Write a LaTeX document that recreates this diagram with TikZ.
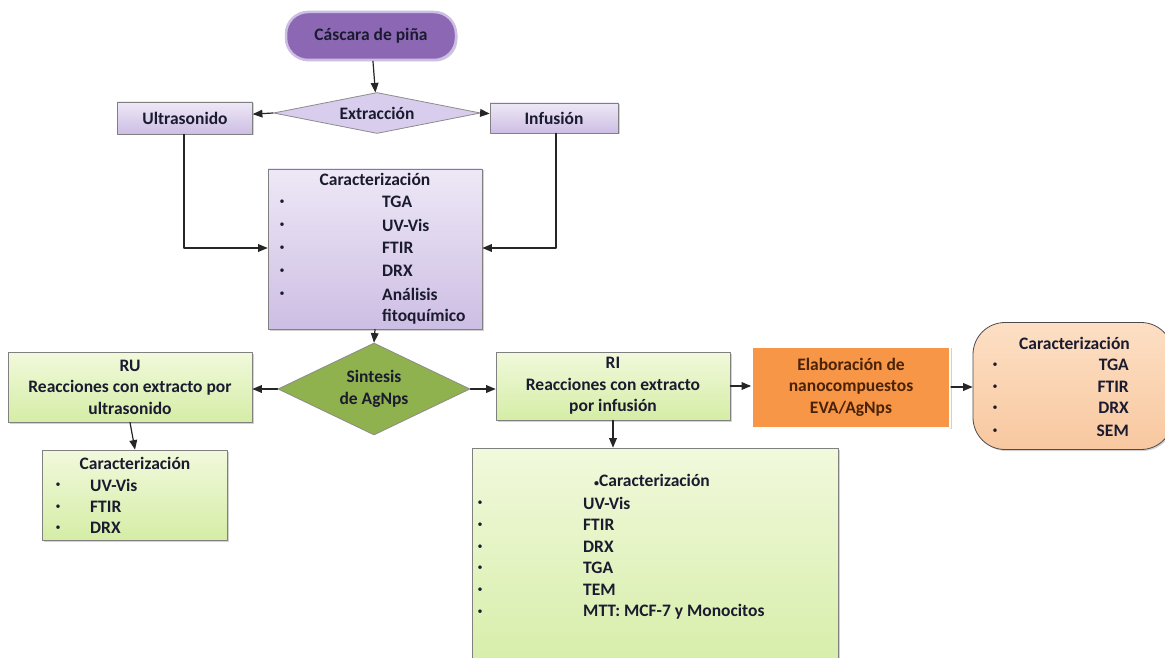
\documentclass[tikz,border=0pt]{standalone}
\usepackage{fontspec}
\setmainfont{Carlito}
\usetikzlibrary{arrows, positioning, shapes.geometric, shadows}
\definecolor{pillviolet}{HTML}{8C68B4}
\definecolor{lavtop}{HTML}{EEE8F6}
\definecolor{lavbot}{HTML}{CDBEE4}
\definecolor{lavdiam}{HTML}{D9CDEE}
\definecolor{greentop}{HTML}{F1F9DC}
\definecolor{greenbot}{HTML}{D5EDA6}
\definecolor{greendiam}{HTML}{8FB14E}
\definecolor{orangebox}{HTML}{F79646}
\definecolor{peachtop}{HTML}{FDDFC4}
\definecolor{peachbot}{HTML}{F8C8A0}
\definecolor{inkblue}{HTML}{1B1B30}
\definecolor{inkbrown}{HTML}{4A2208}

\begin{document}
\begin{tikzpicture}[line cap=round,line join=round,>=triangle 45,x=1pt,y=-1pt,
  every node/.style={font=\bfseries\fontsize{17.5}{21.5}\selectfont, text=inkblue, inner sep=0pt, align=center},
  shade box/.style={draw=black!50, line width=0.8pt, drop shadow={shadow xshift=1.5pt, shadow yshift=-1.5pt, opacity=0.35}},
  lavbox/.style={shade box, rectangle, top color=lavtop, bottom color=lavbot},
  greenbox/.style={shade box, rectangle, top color=greentop, bottom color=greenbot},
  diam/.style={diamond, draw=black!45, line width=0.8pt},
  bul/.style={font=\fontsize{10}{10}\selectfont},
  flow/.style={->, line width=1.2pt, black!85}]
\clip (0,0) rectangle (1165,658);
\fill [white] (0,0) rectangle (1165,658);

% Extraction part
\node [shade box, rounded corners=22, fill=pillviolet, draw=lavbot, line width=2.5pt,
  minimum width=170, minimum height=48] (cascara) at (371,36) {Cáscara de piña};
\node [diam, fill=lavdiam, shape aspect=5.1, minimum width=207, minimum height=41] (extraccion) at (377,113) {Extracción};
\node [lavbox, minimum width=135, minimum height=32] (ultrasonido) at (185,118) {Ultrasonido};
\node [lavbox, minimum width=128, minimum height=30] (infusion) at (554,118) {Infusión};
\node [lavbox, minimum width=214, minimum height=160] (carac1) at (375,249) {};

\coordinate (ultrabend) at (184,248);
\coordinate (infbend) at (556,248);

% Caracterizacion of the extracts
\node (carac1t) at (375,179) {Caracterización};
\foreach \y in {202,225,248,271,294}
  \node [bul] (c1b-\y) at (282,\y) {•};
\foreach \txt/\y in {TGA/202, UV-Vis/225, FTIR/248, DRX/271, Análisis/294, fitoquímico/317}
  \node [anchor=west] (c1i-\y) at (382,\y) {\txt};

% Synthesis part
\node [diam, fill=greendiam, shape aspect=2.1, minimum width=192, minimum height=92] (sintesis) at (374,389) {Sintesis\\de AgNps};
\node [greenbox, minimum width=244, minimum height=70] (ru) at (130,387) {RU\\Reacciones con extracto por\\ultrasonido};
\node [greenbox, minimum width=234, minimum height=68] (ri) at (613,386) {RI\\Reacciones con extracto\\por infusión};
\node [greenbox, minimum width=185, minimum height=90] (carac2) at (135,495) {};
\node [greenbox, minimum width=366, minimum height=230] (carac3) at (655,563) {};
\node [shade box, fill=orangebox, draw=white, line width=2pt, minimum width=198, minimum height=81,
  text=inkbrown] (elab) at (851,387) {Elaboración de\\nanocompuestos\\EVA/AgNps};
\node [shade box, rounded corners=32, top color=peachtop, bottom color=peachbot, draw=black!70,
  minimum width=200, minimum height=127] (carac4) at (1073,386) {};

% Lists
\node (carac2t) at (135,463) {Caracterización};
\foreach \txt/\y in {UV-Vis/485, FTIR/507, DRX/528} {
  \node [bul] (c2b-\y) at (58,\y) {•};
  \node [anchor=west] (c2i-\y) at (90,\y) {\txt};
}
\node (carac3t) at (652,480) {{\fontsize{10}{10}\selectfont•}Caracterización};
\foreach \txt/\y in {UV-Vis/503, FTIR/525, DRX/547, TGA/568, TEM/590, MTT: MCF-7 y Monocitos/612} {
  \node [bul] (c3b-\y) at (480,\y) {•};
  \node [anchor=west] (c3i-\y) at (583,\y) {\txt};
}
\node [anchor=east] (carac4t) at (1130,343) {Caracterización};
\foreach \txt/\y in {TGA/365, FTIR/387, DRX/408, SEM/431} {
  \node [bul] (c4b-\y) at (995,\y) {•};
  \node [anchor=east] (c4i-\y) at (1129,\y) {\txt};
}

% Arrows
\draw [flow] (cascara) -- (extraccion);
\draw [flow] (extraccion.west) -- (ultrasonido);
\draw [flow] (extraccion.east) -- (infusion);
\draw [flow] (ultrasonido.south -| ultrabend) -- (ultrabend) -- (carac1.west |- ultrabend);
\draw [flow] (infusion.south -| infbend) -- (infbend) -- (carac1.east |- infbend);
\draw [flow] (carac1.south) -- (sintesis.north);
\draw [flow] (sintesis.west) -- (ru.east |- sintesis.west);
\draw [flow] (sintesis.east) -- (ri.west |- sintesis.east);
\draw [flow] (ru.south) -- (carac2.north);
\draw [flow] (ri.south) -- (carac3.north -| ri.south);
\draw [flow] (ri.east) -- (elab.west |- ri.east);
\draw [flow] (elab.east) -- (carac4.west |- elab.east);
\end{tikzpicture}
\end{document}
